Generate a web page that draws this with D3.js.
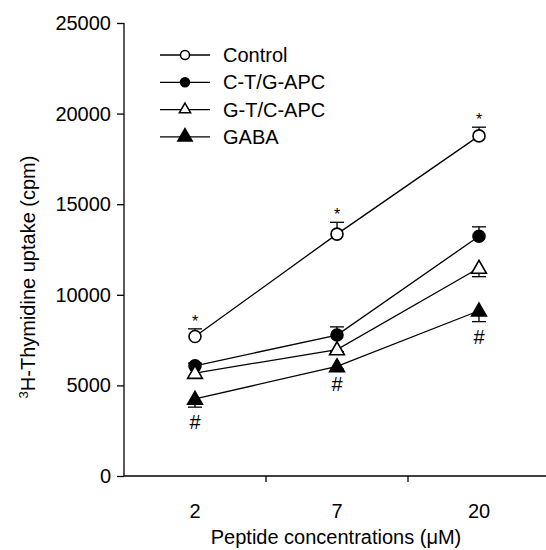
<!DOCTYPE html>
<html>
<head>
<meta charset="UTF-8">
<title>Thymidine uptake</title>
<style>
  body { margin: 0; background: #fff; }
  svg { font-family: "Liberation Sans", Arial, sans-serif; }
</style>
<script src="https://d3js.org/d3.v7.min.js"></script>
</head>
<body>
<script>
// data
const concentrations = ["2", "7", "20"];
const seriesNames = ["Control", "C-T/G-APC", "G-T/C-APC", "GABA"];
const controlValues = [7700, 13350, 18770];
const controlErrors = [420, 650, 480];
const ctgValues = [6080, 7780, 13230];
const ctgErrors = [150, 450, 520];
const gtcValues = [5680, 6980, 11480];
const gtcErrors = [280, 120, 480];
const gabaValues = [4250, 6050, 9120];
const gabaErrors = [450, 150, 600];
const yTicks = [0, 5000, 10000, 15000, 20000, 25000];
// marks: "*" above control, "#" below GABA
const starMarks = [true, true, true];
const hashMarks = [true, true, true];

const width = 546, height = 550;
const margin = { left: 124, right: -4, top: 23, bottom: 74 };
const fontSize = "20px";

const svg = d3.select("body").append("svg")
  .attr("width", width)
  .attr("height", height);

const x = d3.scaleBand()
  .domain(concentrations)
  .range([margin.left, width - margin.right]);

const y = d3.scaleLinear()
  .domain([0, 25000])
  .range([height - margin.bottom, margin.top]);

// y axis
const yAxis = svg.append("g")
  .attr("transform", `translate(${margin.left},0)`)
  .call(d3.axisLeft(y).tickValues(yTicks).tickSize(7).tickPadding(6).tickFormat(d3.format("d")));
yAxis.selectAll("text").style("font-size", fontSize).attr("fill", "#000");
yAxis.selectAll("line, path").attr("stroke", "#000").attr("stroke-width", 1.3);
yAxis.select(".domain").attr("d", `M0,${y(25000)}V${y(0)}`);

// x axis: ticks sit between categories
const xBottom = y(0);
svg.append("line")
  .attr("x1", margin.left).attr("x2", width)
  .attr("y1", xBottom).attr("y2", xBottom)
  .attr("stroke", "#000").attr("stroke-width", 1.3);
concentrations.slice(1).forEach(c => {
  svg.append("line")
    .attr("x1", x(c)).attr("x2", x(c))
    .attr("y1", xBottom).attr("y2", xBottom + 6)
    .attr("stroke", "#000").attr("stroke-width", 1.3);
});
svg.selectAll(".xlab")
  .data(concentrations)
  .join("text")
  .attr("x", d => x(d) + x.bandwidth() / 2)
  .attr("y", 518)
  .attr("text-anchor", "middle")
  .style("font-size", fontSize)
  .text(d => d);

svg.append("text")
  .attr("x", 336).attr("y", 544)
  .attr("text-anchor", "middle")
  .style("font-size", fontSize)
  .text("Peptide concentrations (\u03bcM)");

const ylab = svg.append("text")
  .attr("transform", "translate(35,277) rotate(-90)")
  .attr("text-anchor", "middle")
  .style("font-size", fontSize);
ylab.append("tspan").attr("baseline-shift", "super").style("font-size", "13px").text("3");
ylab.append("tspan").text("H-Thymidine uptake (cpm)");

// series
const series = [
  { name: seriesNames[0], values: controlValues, errs: controlErrors, shape: "circle", fill: "#fff", dir: 1 },
  { name: seriesNames[1], values: ctgValues, errs: ctgErrors, shape: "circle", fill: "#000", dir: 1 },
  { name: seriesNames[2], values: gtcValues, errs: gtcErrors, shape: "triangle", fill: "#fff", dir: -1 },
  { name: seriesNames[3], values: gabaValues, errs: gabaErrors, shape: "triangle", fill: "#000", dir: -1 }
];

const cx = c => x(c) + x.bandwidth() / 2;
const line = d3.line().x(d => cx(d.c)).y(d => y(d.v));

function drawMarker(g, shape, fill, px, py) {
  if (shape === "circle") {
    g.append("circle").attr("cx", px).attr("cy", py).attr("r", 6)
      .attr("fill", fill).attr("stroke", "#000").attr("stroke-width", 1.6);
  } else {
    g.append("path")
      .attr("d", d3.symbol().type(d3.symbolTriangle).size(95)())
      .attr("transform", `translate(${px},${py + 1})`)
      .attr("fill", fill).attr("stroke", "#000").attr("stroke-width", 1.6);
  }
}

series.forEach(s => {
  const pts = concentrations.map((c, i) => ({ c, v: s.values[i], e: s.errs[i] }));
  const g = svg.append("g");
  g.append("path").datum(pts).attr("d", line)
    .attr("fill", "none").attr("stroke", "#000").attr("stroke-width", 1.3);
  pts.forEach(p => {
    const yEnd = y(p.v + s.dir * p.e);
    g.append("line").attr("x1", cx(p.c)).attr("x2", cx(p.c))
      .attr("y1", y(p.v)).attr("y2", yEnd).attr("stroke", "#000").attr("stroke-width", 1.3);
    g.append("line").attr("x1", cx(p.c) - 7).attr("x2", cx(p.c) + 7)
      .attr("y1", yEnd).attr("y2", yEnd).attr("stroke", "#000").attr("stroke-width", 1.3);
  });
  pts.forEach(p => drawMarker(g, s.shape, s.fill, cx(p.c), y(p.v)));
});

// significance marks
concentrations.forEach((c, i) => {
  if (starMarks[i]) {
    svg.append("text").attr("x", cx(c)).attr("y", y(controlValues[i] + controlErrors[i]) - 2)
      .attr("text-anchor", "middle").style("font-size", "16px").text("*");
  }
  if (hashMarks[i]) {
    svg.append("text").attr("x", cx(c)).attr("y", y(gabaValues[i] - gabaErrors[i]) + 22)
      .attr("text-anchor", "middle").style("font-size", fontSize).text("#");
  }
});

// legend
series.forEach((s, i) => {
  const ly = 55 + i * 27.3;
  const g = svg.append("g");
  g.append("line").attr("x1", 160).attr("x2", 210).attr("y1", ly).attr("y2", ly)
    .attr("stroke", "#000").attr("stroke-width", 1.3);
  if (s.shape === "circle") {
    g.append("circle").attr("cx", 185).attr("cy", ly).attr("r", 4.5)
      .attr("fill", s.fill).attr("stroke", "#000").attr("stroke-width", 1.5);
  } else {
    g.append("path").attr("d", d3.symbol().type(d3.symbolTriangle).size(s.fill === "#000" ? 90 : 55)())
      .attr("transform", `translate(185,${ly})`)
      .attr("fill", s.fill).attr("stroke", "#000").attr("stroke-width", 1.5);
  }
  g.append("text").attr("x", 223).attr("y", ly + 7).style("font-size", fontSize).text(s.name);
});
</script>
</body>
</html>
